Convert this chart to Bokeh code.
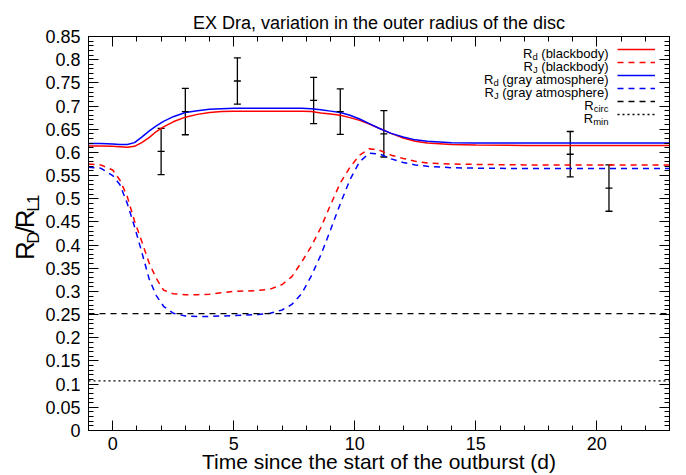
import math
from bokeh.plotting import figure
from bokeh.layouts import row
from bokeh.models import (Range1d, LinearAxis, Label, Whisker, TeeHead, ColumnDataSource,
                          Legend, LegendItem, SingleIntervalTicker, FixedTicker,
                          CustomJSTickFormatter)
from bokeh.core.properties import value
from bokeh.embed import file_html
from bokeh.resources import INLINE

# ---------------- data ----------------
t_model = [-1, -0.5, 0, 0.3, 0.6, 0.9, 1.2, 1.5, 1.8, 2.1, 2.5, 3, 3.5, 4, 4.5, 5, 5.5, 6, 6.5, 7,
           7.4, 7.8, 8.2, 8.6, 9, 9.4, 9.8, 10.2, 10.6, 11, 11.5, 12, 12.5, 13, 14, 15, 17, 19, 21, 23]

# R_d, blackbody (solid red)
rd_blackbody = [0.614, 0.614, 0.613, 0.612, 0.611, 0.613, 0.621, 0.632, 0.645, 0.655, 0.666, 0.676,
                0.682, 0.686, 0.688, 0.689, 0.689, 0.689, 0.689, 0.689, 0.689, 0.689, 0.688, 0.685,
                0.683, 0.680, 0.675, 0.669, 0.661, 0.652, 0.641, 0.631, 0.624, 0.620, 0.617, 0.616,
                0.615, 0.615, 0.615, 0.615]
# R_J, blackbody (dashed red)
rj_blackbody = [0.575, 0.573, 0.562, 0.540, 0.505, 0.452, 0.408, 0.362, 0.328, 0.303, 0.295, 0.293,
                0.293, 0.294, 0.297, 0.300, 0.301, 0.302, 0.305, 0.315, 0.332, 0.363, 0.397, 0.438,
                0.487, 0.534, 0.568, 0.594, 0.608, 0.605, 0.594, 0.587, 0.581, 0.577, 0.575, 0.574,
                0.573, 0.573, 0.573, 0.573]
# R_d, gray atmosphere (solid blue)
rd_gray = [0.619, 0.619, 0.618, 0.617, 0.617, 0.621, 0.633, 0.646, 0.657, 0.667, 0.677, 0.686,
           0.690, 0.693, 0.694, 0.695, 0.695, 0.695, 0.695, 0.695, 0.695, 0.695, 0.694, 0.692,
           0.689, 0.686, 0.680, 0.672, 0.662, 0.652, 0.641, 0.633, 0.627, 0.624, 0.621, 0.620,
           0.620, 0.620, 0.620, 0.620]
# R_J, gray atmosphere (dashed blue)
rj_gray = [0.568, 0.566, 0.550, 0.530, 0.490, 0.440, 0.385, 0.328, 0.291, 0.268, 0.253, 0.247,
           0.246, 0.246, 0.247, 0.248, 0.249, 0.250, 0.253, 0.260, 0.272, 0.295, 0.333, 0.379,
           0.433, 0.489, 0.541, 0.580, 0.598, 0.597, 0.586, 0.578, 0.573, 0.570, 0.567, 0.566,
           0.565, 0.565, 0.565, 0.565]

r_circ = 0.252
r_min = 0.107

obs_t = [2.0, 3.0, 5.15, 8.3, 9.4, 11.2, 18.9, 20.5]
obs_r = [0.602, 0.688, 0.754, 0.712, 0.688, 0.640, 0.596, 0.523]
obs_err = [0.050, 0.050, 0.050, 0.050, 0.049, 0.050, 0.049, 0.050]

x_limits = (-1, 23)
y_limits = (0, 0.85)
y_tick_values = [0, 0.05, 0.1, 0.15, 0.2, 0.25, 0.3, 0.35, 0.4, 0.45, 0.5, 0.55, 0.6, 0.65,
                 0.7, 0.75, 0.8, 0.85]

title_text = "EX Dra, variation in the outer radius of the disc"
xlabel_text = "Time since the start of the outburst (d)"
# y label "R_D/R_L1", one glyph per piece: (glyph, is_subscript)
ylabel_pieces = [("R", False), ("D", True), ("/", False), ("R", False), ("L", True), ("1", True)]
legend_entries = [("R", "d", "(blackbody)"), ("R", "J", "(blackbody)"),
                  ("R", "d", "(gray atmosphere)"), ("R", "J", "(gray atmosphere)"),
                  ("R", "circ", ""), ("R", "min", "")]

# ---------------- styling ----------------
FONT = "Liberation Sans"
RED = "#ff0000"
BLUE = "#0000ff"
LW = 1.5
DASH = "6 5"
DOT = "2 3"

# Arial/Liberation Sans advance widths (per 1000 em), for placing subscript pieces
ADV = {'R': 722, 'D': 722, '/': 278, 'L': 556, '1': 556, 'd': 556, 'J': 500, 'c': 500, 'i': 222,
       'r': 333, 'm': 833, 'n': 556, ' ': 278, '(': 333, ')': 333, 'b': 556, 'l': 222, 'a': 556,
       'k': 500, 'o': 556, 'y': 500, 'g': 556, 't': 278, 's': 500, 'p': 556, 'h': 556, 'e': 556}


def tw(s, size):
    return sum(ADV.get(c, 556) for c in s) * size / 1000.0


W, H = 686, 475
LW_PANEL = 42                 # narrow panel holding the rotated y label
BL, BR, BT, BB = 87 - LW_PANEL, 17, 36, 44
MW = W - LW_PANEL
FRAME_BOTTOM = H - BB

p = figure(width=MW, height=H, output_backend="svg", toolbar_location=None,
           x_range=Range1d(*x_limits), y_range=Range1d(*y_limits),
           min_border_left=BL, min_border_right=BR, min_border_top=BT, min_border_bottom=BB,
           background_fill_color="white", border_fill_color="white")
p.grid.visible = False
p.outline_line_color = "black"
p.outline_line_width = 1

p.title.text = title_text
p.title.align = "center"
p.title.text_font = FONT
p.title.text_font_size = "18px"
p.title.text_font_style = "normal"
p.title.text_color = "black"
p.title.standoff = 8

xt = SingleIntervalTicker(interval=5, num_minor_ticks=5)
yt = FixedTicker(ticks=y_tick_values, minor_ticks=[i / 100 for i in range(86)])
fmt = CustomJSTickFormatter(code="return String(Number(tick.toFixed(2)));")
blank = CustomJSTickFormatter(code="return '';")


def style_axis(ax, size="18px", standoff=8):
    ax.major_tick_in = 10
    ax.major_tick_out = 0
    ax.minor_tick_in = 5
    ax.minor_tick_out = 0
    ax.axis_line_color = "black"
    ax.major_tick_line_color = "black"
    ax.minor_tick_line_color = "black"
    ax.major_label_text_font = FONT
    ax.major_label_text_font_size = size
    ax.major_label_text_color = "black"
    ax.major_label_standoff = standoff


p.xaxis[0].ticker = xt
p.yaxis[0].ticker = yt
p.xaxis[0].formatter = fmt
p.yaxis[0].formatter = fmt
style_axis(p.xaxis[0], "18px", 6)
style_axis(p.yaxis[0], "18px", 8)
p.xaxis[0].axis_label = xlabel_text
p.xaxis[0].axis_label_text_font = FONT
p.xaxis[0].axis_label_text_font_size = "21px"
p.xaxis[0].axis_label_text_font_style = "normal"
p.xaxis[0].axis_label_text_color = "black"
p.xaxis[0].axis_label_standoff = -3

top = LinearAxis(ticker=xt, formatter=blank)
style_axis(top, "0px", 0)
p.add_layout(top, "above")
right = LinearAxis(ticker=yt, formatter=blank)
style_axis(right, "0px", 0)
p.add_layout(right, "right")

# ---------------- curves ----------------
r1 = p.line(t_model, rd_blackbody, line_color=RED, line_width=LW)
r2 = p.line(t_model, rj_blackbody, line_color=RED, line_width=LW, line_dash=DASH)
r3 = p.line(t_model, rd_gray, line_color=BLUE, line_width=LW)
r4 = p.line(t_model, rj_gray, line_color=BLUE, line_width=LW, line_dash=DASH)
r5 = p.line(list(x_limits), [r_circ, r_circ], line_color="black", line_width=1.3, line_dash=DASH)
r6 = p.line(list(x_limits), [r_min, r_min], line_color="black", line_width=1.3, line_dash=DOT)

# ---------------- observations with error bars ----------------
src = ColumnDataSource(dict(t=obs_t, r=obs_r,
                            lo=[v - e for v, e in zip(obs_r, obs_err)],
                            hi=[v + e for v, e in zip(obs_r, obs_err)]))
wh = Whisker(source=src, base="t", lower="lo", upper="hi", dimension="height",
             line_color="black", line_width=1.3,
             upper_head=TeeHead(size=7, line_color="black", line_width=1.3),
             lower_head=TeeHead(size=7, line_color="black", line_width=1.3))
p.add_layout(wh)
p.scatter("t", "r", source=src, marker="dash", size=7, line_color="black", line_width=1.3)

# ---------------- legend (samples by Bokeh, texts as labels) ----------------
LEG_TOP = 44.5        # canvas px
LEG_ROW = 13
LEG_TEXT_RIGHT = 607  # canvas px (full window)
items = [LegendItem(label=" ", renderers=[r]) for r in (r1, r2, r3, r4, r5, r6)]
n = len(items)
leg_h = 10 * n + 3 * (n - 1)
leg = Legend(items=items, location=(616 - 87, FRAME_BOTTOM - (LEG_TOP + leg_h)),
             glyph_width=38, glyph_height=10, label_height=10, label_width=0,
             label_standoff=0, spacing=3, padding=0, margin=0,
             label_text_font_size="6px", border_line_color=None, background_fill_alpha=0)
p.add_layout(leg)


def add_label(fig, txt, sx, sy, size, align="left", baseline="alphabetic", angle=0.0):
    fig.add_layout(Label(x=sx, y=sy, x_units="screen", y_units="screen", text=txt,
                         text_font=FONT, text_font_size=f"{size}px", text_align=align,
                         text_baseline=baseline, angle=angle, text_color="black"))


LEG_MAIN, LEG_SUB = 13, 9.5
for i, (main, sub, rest) in enumerate(legend_entries):
    center = LEG_TOP + 5 + LEG_ROW * i
    base = center + 4.7
    right_x = LEG_TEXT_RIGHT - 87
    if rest:
        add_label(p, rest, right_x, FRAME_BOTTOM - base, LEG_MAIN, align="right")
        right_x -= tw(rest, LEG_MAIN) + tw(" ", LEG_MAIN)
    add_label(p, sub, right_x, FRAME_BOTTOM - base - 2.5, LEG_SUB, align="right")
    right_x -= tw(sub, LEG_SUB)
    add_label(p, main, right_x, FRAME_BOTTOM - base, LEG_MAIN, align="right")

# ---------------- rotated y label in a narrow side panel (pixel-unit ranges) ----------------
yl = figure(width=LW_PANEL, height=H, output_backend="svg", toolbar_location=None,
            x_range=Range1d(0, LW_PANEL), y_range=Range1d(0, H),
            x_axis_type=None, y_axis_type=None,
            min_border=0, min_border_left=0, min_border_right=0, min_border_top=0,
            min_border_bottom=0, outline_line_color=None,
            background_fill_color="white", border_fill_color="white")
yl.grid.visible = False
YL_MAIN, YL_SUB = 26, 17
total = sum(tw(s, YL_SUB if sub else YL_MAIN) for s, sub in ylabel_pieces)
pos = (H - 229.5) - total / 2          # distance from panel bottom where the label starts
for s, sub in ylabel_pieces:
    size = YL_SUB if sub else YL_MAIN
    w = tw(s, size)
    cx = 32.5 if sub else 24
    yl.text(x=[cx], y=[pos + w / 2], text=[s], angle=math.pi / 2, text_font=value(FONT),
            text_font_size=f"{size}px", text_align="center", text_baseline="middle",
            text_color="black")
    pos += w

layout = row(yl, p, spacing=0)
open("out.html", "w").write(file_html(layout, INLINE))
